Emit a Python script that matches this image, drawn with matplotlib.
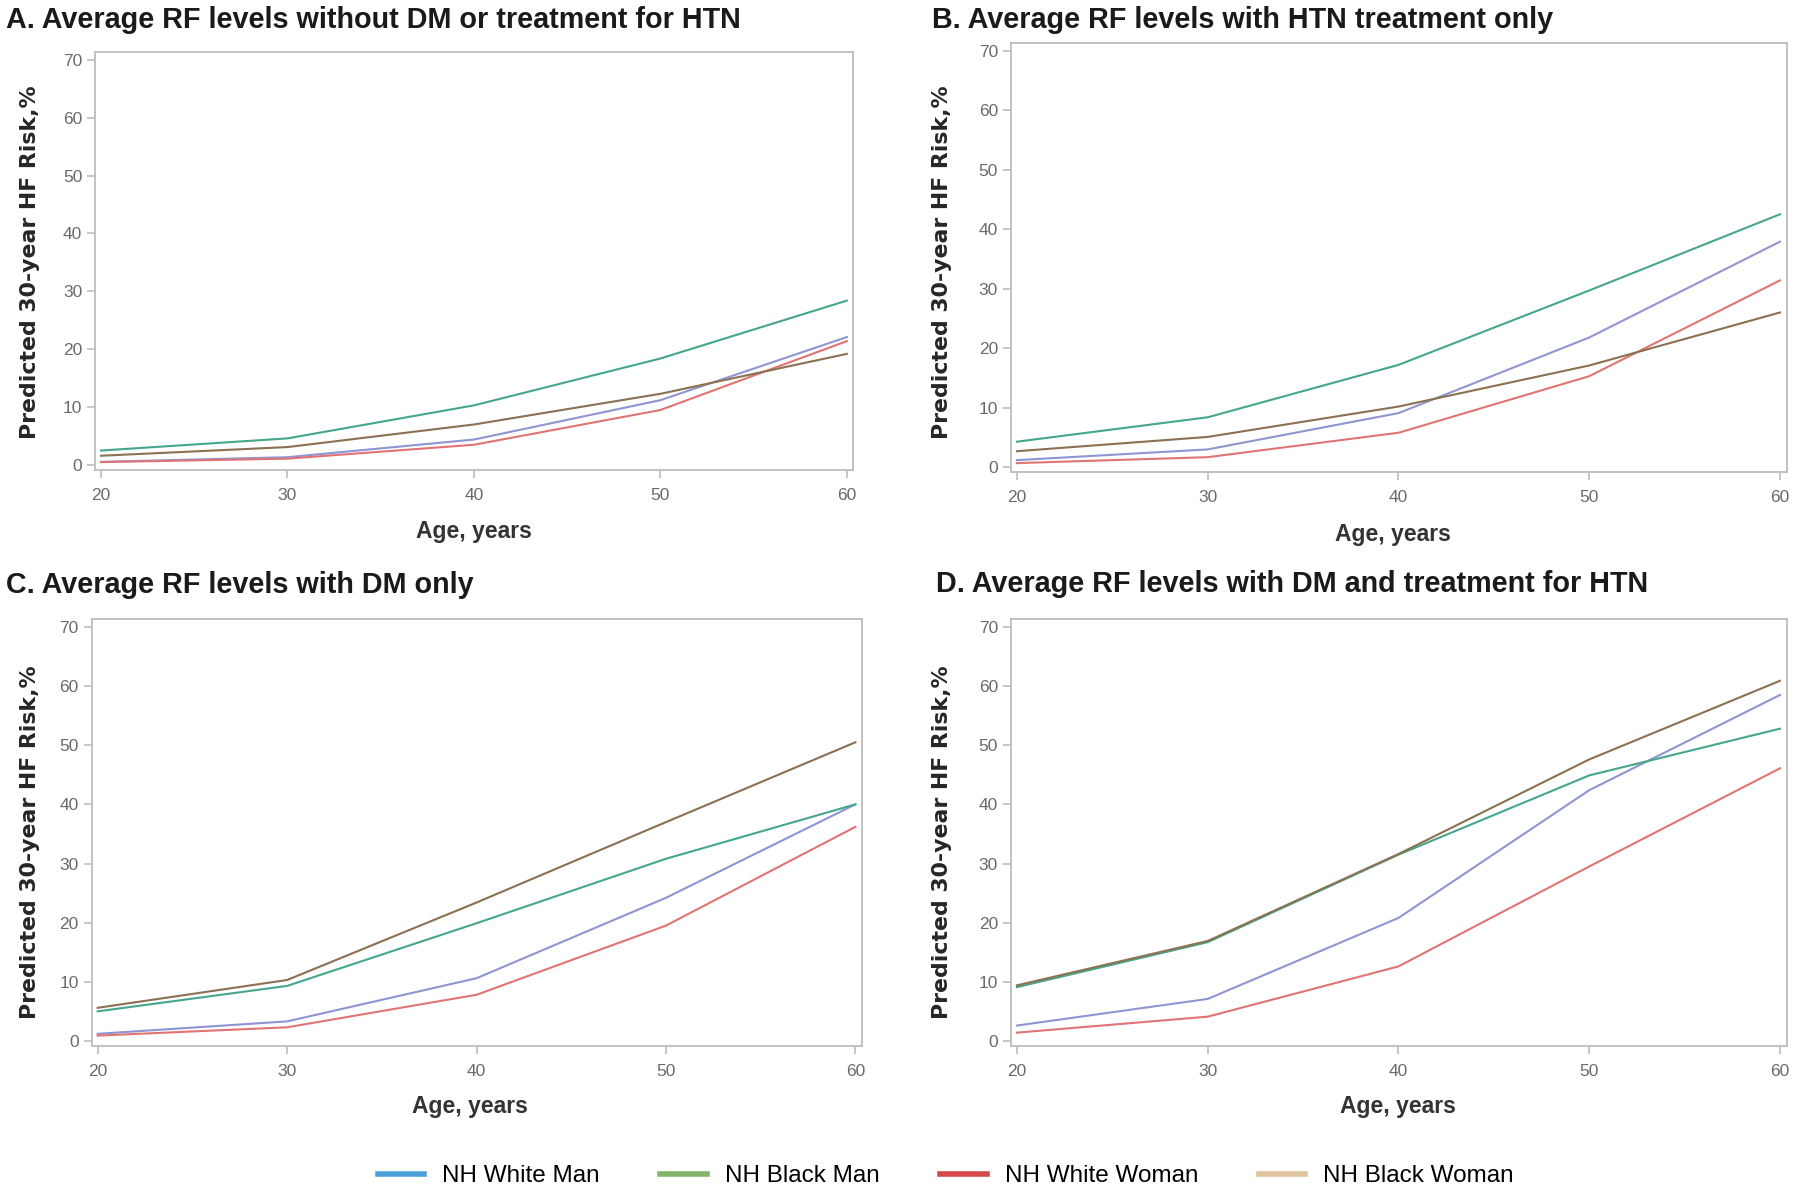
import matplotlib
matplotlib.use("Agg")
import matplotlib.pyplot as plt
from matplotlib.lines import Line2D

plt.rcParams["font.family"] = ["Liberation Sans", "DejaVu Sans"]

ages = [20, 30, 40, 50, 60]
groups = ["NH White Man", "NH Black Man", "NH White Woman", "NH Black Woman"]

# predicted 30-year HF risk (%) per panel, order: white man, black man, white woman, black woman
panel_a = [
    [0.55, 1.35, 4.4, 11.2, 22.1],
    [2.5, 4.6, 10.3, 18.4, 28.4],
    [0.5, 1.1, 3.5, 9.5, 21.4],
    [1.6, 3.1, 7.0, 12.3, 19.2],
]
panel_b = [
    [1.2, 3.0, 9.1, 21.8, 37.9],
    [4.3, 8.4, 17.2, 29.7, 42.5],
    [0.7, 1.7, 5.8, 15.3, 31.4],
    [2.7, 5.1, 10.2, 17.1, 26.0],
]
panel_c = [
    [1.2, 3.3, 10.6, 24.2, 40.0],
    [5.0, 9.3, 19.9, 30.8, 40.0],
    [0.9, 2.3, 7.8, 19.5, 36.2],
    [5.6, 10.3, 23.4, 37.0, 50.5],
]
panel_d = [
    [2.6, 7.1, 20.8, 42.4, 58.5],
    [9.1, 16.7, 31.5, 44.9, 52.8],
    [1.4, 4.1, 12.6, 29.5, 46.1],
    [9.4, 16.9, 31.6, 47.6, 60.9],
]
titles = [
    "A. Average RF levels without DM or treatment for HTN",
    "B. Average RF levels with HTN treatment only",
    "C. Average RF levels with DM only",
    "D. Average RF levels with DM and treatment for HTN",
]
yticks = [0, 10, 20, 30, 40, 50, 60, 70]

LINE_COLORS = ["#8e95d2", "#45a68c", "#e07474", "#8b7152"]
LEGEND_COLORS = ["#4ca0da", "#82b366", "#d64848", "#dfc39c"]
FRAME = "#bdbdbd"
TICK_TXT = "#6a6a6a"

fig = plt.figure(figsize=(18, 11.99), dpi=100)

positions = [
    [0.0530, 0.6083, 0.4211, 0.3481],
    [0.5618, 0.6063, 0.4308, 0.3580],
    [0.0511, 0.1279, 0.4278, 0.3556],
    [0.5618, 0.1279, 0.4308, 0.3556],
]
panels = [panel_a, panel_b, panel_c, panel_d]
title_xy = [(0.0033, 0.9835), (0.518, 0.9835), (0.0033, 0.5117), (0.520, 0.5126)]
ylabel_xy = [(0.0165, 0.7815), (0.5236, 0.7815), (0.0165, 0.298), (0.5236, 0.298)]
xlabel_xy = [(0.2634, 0.5567), (0.7736, 0.5538), (0.2608, 0.077), (0.7768, 0.077)]

for i, (pos, data, title) in enumerate(zip(positions, panels, titles)):
    ax = fig.add_axes(pos)
    for series, color in zip(data, LINE_COLORS):
        ax.plot(ages, series, color=color, lw=1.5)
    ax.set_xlim(19.7, 60.35)
    ax.set_ylim(-0.8, 71.3)
    ax.set_xticks(ages)
    ax.set_yticks(yticks)
    for side in ax.spines.values():
        side.set_color(FRAME)
        side.set_linewidth(1.3)
    ax.tick_params(axis="both", colors=FRAME, labelcolor=TICK_TXT,
                   labelsize=12.5, length=6, width=1.2, direction="out")
    ax.tick_params(axis="x", pad=7)
    fig.text(*title_xy[i], title, fontsize=20.7, fontweight="bold",
             color="#1a1a1a", ha="left", va="center")
    fig.text(*ylabel_xy[i], "Predicted 30-year HF Risk,%", rotation=90,
             fontsize=15.8, fontweight="bold", family="DejaVu Sans",
             color="#262626", ha="center", va="center")
    fig.text(*xlabel_xy[i], "Age, years", fontsize=16.5, fontweight="bold",
             color="#333333", ha="center", va="center")

handles = [Line2D([0], [0], color=c, lw=4) for c in LEGEND_COLORS]
fig.legend(handles, groups, loc="center", bbox_to_anchor=(0.5255, 0.019),
           ncol=4, frameon=False, fontsize=17.5, handlelength=1.9,
           handletextpad=0.75, columnspacing=2.5)

fig.savefig("out.png", dpi=100)
